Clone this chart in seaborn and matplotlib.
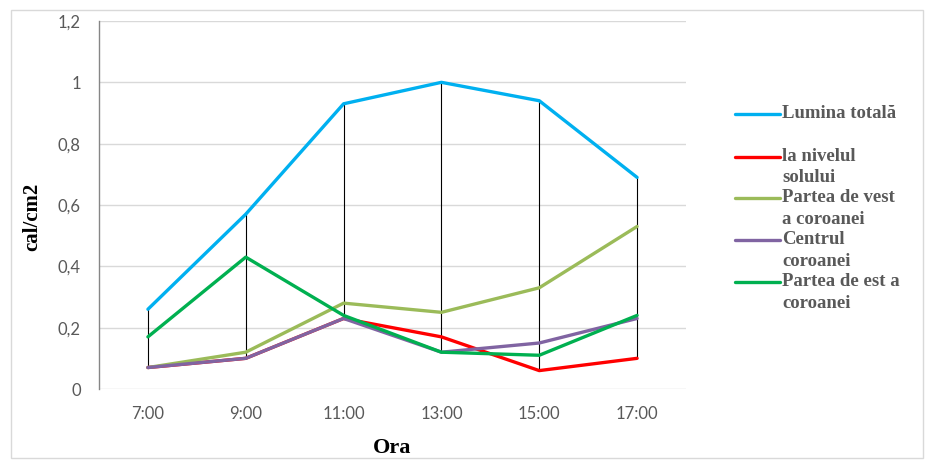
import matplotlib
matplotlib.use("Agg")
import matplotlib.pyplot as plt
from matplotlib.lines import Line2D
from matplotlib.patches import Rectangle
import seaborn as sns
import pandas as pd

hours = ["7:00", "9:00", "11:00", "13:00", "15:00", "17:00"]
lumina_totala = [0.26, 0.57, 0.93, 1.00, 0.94, 0.69]
nivelul_solului = [0.07, 0.10, 0.23, 0.17, 0.06, 0.10]
vest_coroana = [0.07, 0.12, 0.28, 0.25, 0.33, 0.53]
centrul_coroanei = [0.07, 0.10, 0.23, 0.12, 0.15, 0.23]
est_coroana = [0.17, 0.43, 0.24, 0.12, 0.11, 0.24]

series_names = ["Lumina totală", "la nivelul solului", "Partea de vest a coroanei",
                "Centrul coroanei", "Partea de est a coroanei"]
legend_lines = [["Lumina totală"], ["la nivelul", "solului"], ["Partea de vest", "a coroanei"],
                ["Centrul", "coroanei"], ["Partea de est a", "coroanei"]]
series_values = [lumina_totala, nivelul_solului, vest_coroana, centrul_coroanei, est_coroana]
colors = ["#00B0F0", "#FF0000", "#9BBB59", "#8064A2", "#00B050"]

rows = []
for name, vals in zip(series_names, series_values):
    for i, (h, v) in enumerate(zip(hours, vals)):
        rows.append({"pos": i, "Ora": h, "serie": name, "val": v})
df = pd.DataFrame(rows)

sns.set_style("white")
W, H = 926, 468
fig = plt.figure(figsize=(W / 100, H / 100), dpi=100)
ax = fig.add_axes([99 / W, (H - 389) / H, (686 - 99) / W, (389 - 21) / H])

# chart frame
fig.patches.append(Rectangle((11 / W, 10 / H), (923 - 11) / W, (458 - 10) / H,
                             transform=fig.transFigure, fill=False,
                             edgecolor="#D9D9D9", linewidth=1.0))

# high-low lines
for i in range(len(hours)):
    col = [v[i] for v in series_values]
    ax.vlines(i, min(col), max(col), color="black", linewidth=0.8, zorder=1)

sns.lineplot(data=df, x="pos", y="val", hue="serie", hue_order=series_names,
             palette=colors, linewidth=2.4, ax=ax, legend=False, zorder=2)

ax.set_xlim(-0.5, len(hours) - 0.5)
ax.set_ylim(0, 1.2)
ax.set_xticks(range(len(hours)))
ax.set_xticklabels(hours)
yt = [0, 0.2, 0.4, 0.6, 0.8, 1.0, 1.2]
ax.set_yticks(yt)
ax.set_yticklabels([("%g" % t).replace(".", ",") for t in yt])
ax.grid(axis="y", color="#D9D9D9", linewidth=1.0)
ax.set_axisbelow(True)
for s in ["top", "right", "bottom"]:
    ax.spines[s].set_visible(False)
ax.spines["left"].set_color("#868686")
ax.spines["left"].set_linewidth(1.0)
ax.tick_params(axis="y", length=5, width=1, color="#868686", direction="out",
               labelsize=12, labelcolor="#595959", pad=8)
ax.tick_params(axis="x", length=0, labelsize=12, labelcolor="#595959", pad=12)
for lab in ax.get_xticklabels() + ax.get_yticklabels():
    lab.set_fontfamily("Lato")

ax.set_xlabel("Ora", fontfamily="Liberation Serif", fontweight="bold", fontsize=16,
              color="black")
ax.set_ylabel("cal/cm2", fontfamily="Liberation Serif", fontweight="bold", fontsize=15,
              color="black")
ax.xaxis.set_label_coords(0.5, -0.133)
ax.yaxis.set_label_coords(-0.097, 0.467)

# legend
line_y = [114, 157, 198, 240, 282]
for lines, c, y in zip(legend_lines, colors, line_y):
    fig.add_artist(Line2D([735 / W, 780 / W], [1 - y / H, 1 - y / H], color=c,
                          linewidth=2.4, transform=fig.transFigure))
    for k, t in enumerate(lines):
        fig.text(782 / W, 1 - (y + k * 21) / H, t, fontfamily="Liberation Serif",
                 fontweight="bold", fontsize=13.5, color="#595959", va="center", ha="left")

fig.savefig("out.png", dpi=100)
